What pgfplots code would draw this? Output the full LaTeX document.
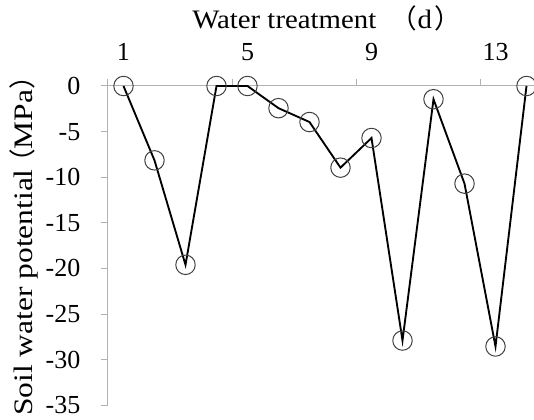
\documentclass[border=0pt]{standalone}
\usepackage{pgfplots}
\pgfplotsset{compat=1.18}
\usepackage{fontspec}
\setmainfont{Liberation Serif}
\newfontfamily\cjk{Noto Sans CJK SC}
\pgfplotstableread{
x y
1 0
2 -8.15
3 -19.6
4 0
5 0
6 -2.43
7 -3.95
8 -8.95
9 -5.7
10 -27.9
11 -1.45
12 -10.7
13 -28.55
14 0
}\datatable
\begin{document}
\begin{tikzpicture}
\begin{axis}[
  scale only axis,
  width=325.5pt, height=239.5pt,
  xmin=0.5, xmax=14.5, ymin=-35, ymax=0,
  axis x line*=top, axis y line*=left,
  axis line style={draw=gray!60, line width=0.75pt},
  every tick/.style={draw=gray!60, line width=0.75pt},
  tick align=outside,
  major tick length=5.5pt,
  xtick={0.5,4.5,8.5,12.5}, xticklabels={,,,},
  extra x ticks={1,5,9,13}, extra x tick labels={1,5,9,13},
  extra x tick style={major tick length=0pt},
  xticklabel style={anchor=base, inner sep=0pt},
  xticklabel shift=18.75pt,
  ytick={0,-5,-10,-15,-20,-25,-30,-35},
  yticklabels={0,-5,-10,-15,-20,-25,-30,-35},
  yticklabel style={anchor=east, inner sep=0pt},
  yticklabel shift=15pt,
  tick label style={font=\fontsize{19.5}{22}\selectfont},
  xlabel={Water treatment\kern11pt{\cjk （}d\kern2pt{\cjk ）}},
  ylabel={Soil water potential\kern-5pt{\cjk （}MPa{\cjk ）}},
  every axis x label/.style={at={(axis description cs:0,1)}, anchor=base west,
    inner sep=0pt, xshift=63pt, yshift=42.75pt,
    font=\fontsize{20}{24}\selectfont\addfontfeature{FakeStretch=1.08}},
  every axis y label/.style={at={([xshift=-56.25pt,yshift=-8pt]axis description cs:0,0)},
    rotate=90, anchor=base west, inner sep=0pt,
    font=\fontsize{20}{24}\selectfont\addfontfeature{FakeStretch=1.18}},
  clip=false,
]
\addplot[black, line width=1.4pt, mark=o, mark size=7.3pt,
  mark options={draw=black!75, line width=0.75pt, fill=none}] table[x=x,y=y] {\datatable};
\coordinate (A) at (axis cs:0.5,-35);
\coordinate (B) at (axis cs:0.5,0);
\end{axis}
\pgfresetboundingbox
\path[use as bounding box] ([shift={(-81pt,-11pt)}]A) rectangle ([shift={(319.5pt,64.5pt)}]B);
\end{tikzpicture}
\end{document}
